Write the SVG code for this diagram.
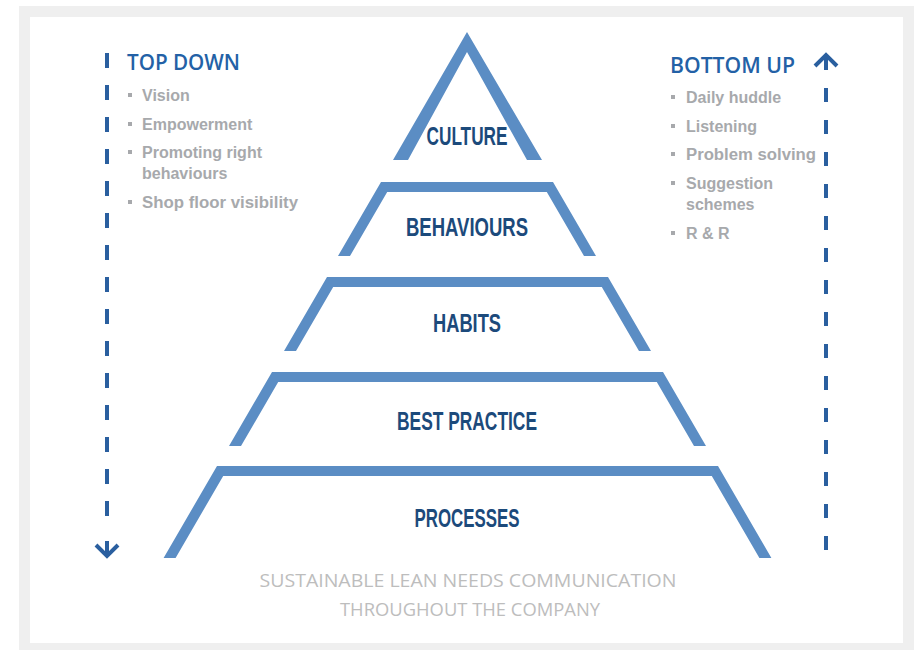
<svg xmlns="http://www.w3.org/2000/svg" width="917" height="650" viewBox="0 0 917 650">
<style>
.frame{fill:#efefef}
.inner{fill:#ffffff}
.tier{fill:#5b8dc4}
.lbl{font-family:"Liberation Sans",Arial,sans-serif;font-weight:bold;font-size:25px;fill:#1c4a7b;text-anchor:middle}
.head{font-family:"Open Sans","Liberation Sans",Arial,sans-serif;font-weight:600;font-size:22px;fill:#2361a6}
.item{font-family:"Liberation Sans",Arial,sans-serif;font-weight:bold;font-size:16px;fill:#a7a9ac}
.bul{fill:#a7a9ac}
.foot{font-family:"Open Sans","Liberation Sans",Arial,sans-serif;font-weight:500;font-size:19px;fill:#bdbdbd;text-anchor:middle}
.dash{stroke:#2a5f9f;stroke-width:4;fill:none}
.chev{stroke:#2a5f9f;stroke-width:4;fill:none;stroke-linecap:butt;stroke-linejoin:miter}
</style>
<rect class="frame" x="19" y="6" width="895" height="650"/>
<rect class="inner" x="30" y="17" width="873" height="626"/>

<g id="culture">
<polygon class="tier" points="393,160 467,32 542,160 527,160 467,52 408,160"/>
<text class="lbl" x="467" y="145" textLength="81" lengthAdjust="spacingAndGlyphs">CULTURE</text>
</g>
<g id="behaviours">
<polygon class="tier" points="338,256 381,182 553,182 596,256 584,256 546.8,192 387.2,192 350,256"/>
<text class="lbl" x="467" y="236" textLength="122" lengthAdjust="spacingAndGlyphs">BEHAVIOURS</text>
</g>
<g id="habits">
<polygon class="tier" points="284,351 327,277 608,277 651,351 639,351 601.8,287 333.2,287 296,351"/>
<text class="lbl" x="467" y="332" textLength="68" lengthAdjust="spacingAndGlyphs">HABITS</text>
</g>
<g id="best-practice">
<polygon class="tier" points="229,446 272,372 663,372 706,446 694,446 656.8,382 278.2,382 241,446"/>
<text class="lbl" x="467" y="430" textLength="140" lengthAdjust="spacingAndGlyphs">BEST PRACTICE</text>
</g>
<g id="processes">
<polygon class="tier" points="163.6,558 217,466 718,466 771.4,558 759.4,558 711.8,476 223.2,476 175.6,558"/>
<text class="lbl" x="467" y="527" textLength="105" lengthAdjust="spacingAndGlyphs">PROCESSES</text>
</g>

<g id="top-down">
<text class="head" x="127" y="70" textLength="113" lengthAdjust="spacingAndGlyphs">TOP DOWN</text>
<rect class="bul" x="128" y="93" width="4" height="4"/>
<text class="item" x="142" y="101">Vision</text>
<rect class="bul" x="128" y="122" width="4" height="4"/>
<text class="item" x="142" y="130">Empowerment</text>
<rect class="bul" x="128" y="150" width="4" height="4"/>
<text class="item" x="142" y="158">Promoting right</text>
<text class="item" x="142" y="179">behaviours</text>
<rect class="bul" x="128" y="200" width="4" height="4"/>
<text class="item" x="142" y="208" textLength="156" lengthAdjust="spacingAndGlyphs">Shop floor visibility</text>
</g>

<g id="bottom-up">
<text class="head" x="670" y="73" textLength="125" lengthAdjust="spacingAndGlyphs">BOTTOM UP</text>
<rect class="bul" x="671" y="95" width="4" height="4"/>
<text class="item" x="686" y="103">Daily huddle</text>
<rect class="bul" x="671" y="124" width="4" height="4"/>
<text class="item" x="686" y="132">Listening</text>
<rect class="bul" x="671" y="152" width="4" height="4"/>
<text class="item" x="686" y="160" textLength="130" lengthAdjust="spacingAndGlyphs">Problem solving</text>
<rect class="bul" x="671" y="181" width="4" height="4"/>
<text class="item" x="686" y="189">Suggestion</text>
<text class="item" x="686" y="210">schemes</text>
<rect class="bul" x="671" y="231" width="4" height="4"/>
<text class="item" x="686" y="239">R &amp; R</text>
</g>

<g id="connectors">
<line class="dash" x1="107" y1="53" x2="107" y2="524" stroke-dasharray="15 17"/>
<line class="dash" x1="107" y1="541" x2="107" y2="554"/>
<polyline class="chev" points="96,545 107,556 118,545"/>
<line class="dash" x1="826" y1="88" x2="826" y2="557" stroke-dasharray="14 18"/>
<line class="dash" x1="826" y1="57" x2="826" y2="70"/>
<polyline class="chev" points="815,66 826,55 837,66"/>
</g>

<g id="caption">
<text class="foot" x="468" y="587" textLength="417" lengthAdjust="spacingAndGlyphs">SUSTAINABLE LEAN NEEDS COMMUNICATION</text>
<text class="foot" x="470" y="616" textLength="260" lengthAdjust="spacingAndGlyphs">THROUGHOUT THE COMPANY</text>
</g>
</svg>
